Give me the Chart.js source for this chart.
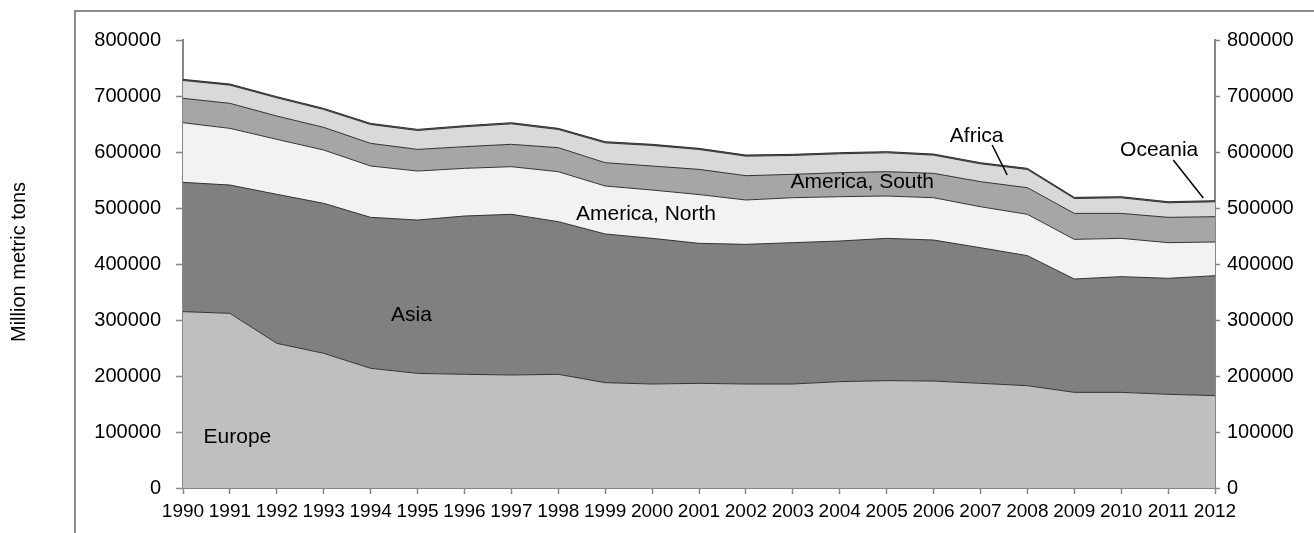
<!DOCTYPE html>
<html>
<head>
<meta charset="utf-8">
<script src="https://cdn.jsdelivr.net/npm/chart.js@4.4.1/dist/chart.umd.min.js"></script>
<style>
  html, body { margin: 0; padding: 0; background: #fff; }
  #wrap { position: relative; width: 1314px; height: 533px; overflow: hidden; }
  #frame { position: absolute; left: 74px; top: 10px; width: 1300px; height: 600px;
           border-left: 2px solid #8c8c8c; border-top: 2px solid #8c8c8c; pointer-events: none; }
  canvas { position: absolute; left: 0; top: 0; }
</style>
</head>
<body>
<div id="wrap">
  <canvas id="c" width="1314" height="533"></canvas>
  <div id="frame"></div>
</div>
<script>
const years = ['1990','1991','1992','1993','1994','1995','1996','1997','1998','1999','2000','2001','2002','2003','2004','2005','2006','2007','2008','2009','2010','2011','2012'];

const europe  = [314900,311900,258300,240500,213700,204700,203000,201800,203000,188100,185700,186900,185700,185700,189900,191700,191000,186900,182700,170800,170800,167300,164900];
const asia    = [230900,229100,266100,267800,269600,273800,282700,286900,272600,265500,260100,250000,249400,252400,251100,254100,251800,242200,232200,202400,206600,207100,214200];
const amNorth = [106500,101200,98200,95200,91700,87500,85100,85100,89200,85700,86300,87100,79200,80300,79200,75600,75600,73200,73800,70800,68400,63700,60200];
const amSouth = [43500,44700,41600,40500,40400,38700,38700,39900,42900,41600,42900,45000,43400,41700,42900,43400,43500,44700,47600,46400,44600,45200,45200];
const africa  = [31900,32500,32600,31900,33700,33700,35500,36600,32500,35500,36700,35500,34900,33700,33700,33800,32500,31900,32500,26600,27800,26000,26600];
const oceania = [2000,2000,2000,2000,2000,2000,2000,2000,2000,2000,2000,2000,2000,2000,2000,2000,2000,2000,2000,2000,2000,2000,2000];

const yTicks = [0,100000,200000,300000,400000,500000,600000,700000,800000];

// Area labels anchored in data units: [text, category index, value]
const areaLabels = [
  ['Europe', 1.16, 91000],
  ['Asia', 4.87, 309000],
  ['America, North', 9.87, 489000],
  ['America, South', 14.48, 546000],
  ['Africa', 16.92, 628600],
  ['Oceania', 20.81, 603600]
];
// Leader lines: [idx1, val1, idx2, val2]
const leaders = [
  [17.25, 612500, 17.57, 558900],
  [21.11, 585700, 21.75, 517900]
];

const FONT = "'Liberation Sans', Arial, sans-serif";
const AXIS = '#868686';

const series = [
  ['Europe', europe, '#BFBFBF'],
  ['Asia', asia, '#808080'],
  ['America, North', amNorth, '#F2F2F2'],
  ['America, South', amSouth, '#A6A6A6'],
  ['Africa', africa, '#D9D9D9'],
  ['Oceania', oceania, '#595959']
];

const datasets = series.map((s, i) => ({
  label: s[0],
  data: s[1],
  backgroundColor: s[2],
  borderColor: '#333333',
  borderWidth: 1,
  fill: i === 0 ? 'origin' : '-1',
  pointRadius: 0,
  tension: 0
}));

const labelPlugin = {
  id: 'labels',
  afterDatasetsDraw(chart) {
    const ctx = chart.ctx;
    const xs = chart.scales.x, ys = chart.scales.y;
    ctx.save();
    ctx.fillStyle = '#000';
    ctx.font = '21px ' + FONT;
    ctx.textAlign = 'center';
    ctx.textBaseline = 'middle';
    areaLabels.forEach(l => {
      ctx.fillText(l[0], xs.getPixelForValue(l[1]), ys.getPixelForValue(l[2]));
    });
    ctx.strokeStyle = '#000';
    ctx.lineWidth = 1.5;
    leaders.forEach(l => {
      ctx.beginPath();
      ctx.moveTo(xs.getPixelForValue(l[0]), ys.getPixelForValue(l[1]));
      ctx.lineTo(xs.getPixelForValue(l[2]), ys.getPixelForValue(l[3]));
      ctx.stroke();
    });
    // y-axis title
    ctx.translate(19, (chart.chartArea.top + chart.chartArea.bottom) / 2 - 2);
    ctx.rotate(-Math.PI / 2);
    ctx.font = '20px ' + FONT;
    ctx.fillText('Million metric tons', 0, 0);
    ctx.restore();
  }
};

const yAxisCommon = {
  min: 0, max: 800000,
  afterBuildTicks: s => { s.ticks = yTicks.map(v => ({ value: v })); },
  grid: { display: true, drawOnChartArea: false, drawTicks: true, color: AXIS, tickColor: AXIS, tickWidth: 1.5 },
  border: { display: true, color: AXIS, width: 2 },
  ticks: { color: '#000', font: { family: FONT, size: 20 }, callback: v => String(v) }
};

new Chart(document.getElementById('c'), {
  type: 'line',
  data: { labels: years, datasets },
  options: {
    responsive: false,
    animation: false,
    devicePixelRatio: 1,
    layout: { padding: { top: 40, left: 0, right: 0, bottom: 0 } },
    plugins: { legend: { display: false }, tooltip: { enabled: false } },
    scales: {
      x: {
        type: 'category',
        offset: false,
        grid: { display: true, drawOnChartArea: false, drawTicks: true, tickLength: 6, color: AXIS, tickColor: AXIS, tickWidth: 1.5 },
        border: { display: true, color: AXIS, width: 2 },
        ticks: { color: '#000', font: { family: FONT, size: 19 }, padding: 6, maxRotation: 0, minRotation: 0, autoSkip: false },
        afterFit: s => { s.height = 45; }
      },
      y: Object.assign({}, yAxisCommon, {
        stacked: true,
        position: 'left',
        grid: Object.assign({}, yAxisCommon.grid, { tickLength: 7 }),
        ticks: Object.assign({}, yAxisCommon.ticks, { padding: 15 }),
        afterFit: s => { s.width = 183; }
      }),
      y2: Object.assign({}, yAxisCommon, {
        position: 'right',
        grid: Object.assign({}, yAxisCommon.grid, { tickLength: 5 }),
        ticks: Object.assign({}, yAxisCommon.ticks, { padding: 7 }),
        afterFit: s => { s.width = 99; }
      })
    }
  },
  plugins: [labelPlugin]
});
</script>
</body>
</html>
